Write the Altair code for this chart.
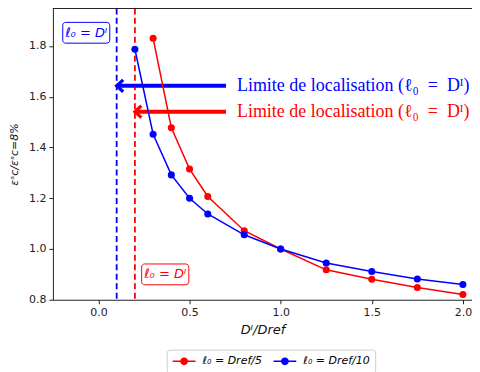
import altair as alt
import pandas as pd

# ---- data ----
red_x = [0.3, 0.4, 0.5, 0.6, 0.8, 1.0, 1.25, 1.5, 1.75, 2.0]
red_y = [1.83, 1.478, 1.315, 1.207, 1.072, 1.0, 0.918, 0.881, 0.848, 0.821]
blue_x = [0.2, 0.3, 0.4, 0.5, 0.6, 0.8, 1.0, 1.25, 1.5, 1.75, 2.0]
blue_y = [1.787, 1.452, 1.292, 1.2, 1.138, 1.056, 1.0, 0.945, 0.911, 0.882, 0.86]
series_names = ["ℓ₀ = Dref/5", "ℓ₀ = Dref/10"]
series_colors = ["#ff0000", "#0000ff"]

limit_x = [0.1, 0.2]            # localisation limits (blue, red)
arrow_y = [1.643, 1.541]        # arrow heights (blue, red)
arrow_start = [0.7, 0.7]
arrow_text_x = [0.76, 0.76]
arrow_text = ["Limite de localisation (ℓ₀\u2002=\u2002Dᴵ)", "Limite de localisation (ℓ₀\u2002=\u2002Dᴵ)"]
limit_colors = ["#0000ff", "#ff0000"]

box_text = ["ℓ₀ = Dᴵ", "ℓ₀ = Dᴵ"]
box_x = [-0.196, 0.237]
box_x2 = [0.062, 0.496]
box_y = [1.811, 0.859]
box_y2 = [1.893, 0.941]

x_ticks = [0.0, 0.5, 1.0, 1.5, 2.0]
y_ticks = [0.8, 1.0, 1.2, 1.4, 1.6, 1.8]
x_domain = [-0.25, 2.05]
y_domain = [0.8, 1.948]

W, H = 420, 292

df = pd.DataFrame({
    "x": red_x + blue_x,
    "y": red_y + blue_y,
    "series": [series_names[0]] * len(red_x) + [series_names[1]] * len(blue_x),
})
lim = pd.DataFrame({
    "lx": limit_x, "ay": arrow_y, "ax0": arrow_start, "tx": arrow_text_x,
    "txt": arrow_text, "c": limit_colors,
})
boxes = pd.DataFrame({
    "x": box_x, "x2": box_x2, "y": box_y, "y2": box_y2, "txt": box_text,
    "c": limit_colors,
    "cx": [(a + b) / 2 for a, b in zip(box_x, box_x2)],
    "cy": [(a + b) / 2 for a, b in zip(box_y, box_y2)],
})

xs = alt.Scale(domain=x_domain, nice=False, zero=False)
ys = alt.Scale(domain=y_domain, nice=False, zero=False)

main = alt.Chart(df).mark_line(
    strokeWidth=1.5,
    point=alt.OverlayMarkDef(filled=True, size=50, opacity=1),
).encode(
    x=alt.X("x:Q", scale=xs, axis=alt.Axis(
        values=x_ticks, format=".1f", title="Dᴵ/Dref", grid=False,
        tickSize=4, labelPadding=3, titleFontStyle="italic",
        titleFontWeight="normal", titleFontSize=13, titlePadding=6,
    )),
    y=alt.Y("y:Q", scale=ys, axis=alt.Axis(
        values=y_ticks, format=".1f", title="εˢc/εˢc=8%", grid=False,
        tickSize=4, labelPadding=3, titleFontStyle="italic",
        titleFontWeight="normal", titleFontSize=11, titlePadding=9,
    )),
    color=alt.Color("series:N", scale=alt.Scale(domain=series_names, range=series_colors),
                    sort=series_names,
                    legend=alt.Legend(
                        title=None, orient="none", legendX=114, legendY=342,
                        direction="horizontal", strokeColor="#cccccc", fillColor="white",
                        padding=5, cornerRadius=3, columnPadding=8,
                        labelFont="DejaVu Sans", labelFontStyle="italic", labelFontSize=11,
                        symbolType="M-2,0H2M0,-0.55A0.55,0.55,0,1,1,0,0.55A0.55,0.55,0,1,1,0,-0.55",
                        symbolSize=130, symbolStrokeWidth=1.5, labelOffset=12,
                        symbolOffset=6,
                    )),
)

vlines = alt.Chart(lim).mark_rule(strokeWidth=1.8, strokeDash=[6, 3.5]).encode(
    x=alt.X("lx:Q", scale=xs),
    color=alt.Color("c:N", scale=None),
)

shafts = alt.Chart(lim).mark_rule(strokeWidth=4).encode(
    x=alt.X("lx:Q", scale=xs), x2="ax0:Q",
    y=alt.Y("ay:Q", scale=ys),
    color=alt.Color("c:N", scale=None),
)
heads = alt.Chart(lim).mark_point(
    shape="M1.1,-1L0,0L1.1,1", filled=False, strokeWidth=3.2, size=140, opacity=1,
).encode(
    x=alt.X("lx:Q", scale=xs), y=alt.Y("ay:Q", scale=ys),
    color=alt.Color("c:N", scale=None),
)
texts = alt.Chart(lim).mark_text(
    align="left", baseline="middle", font="Liberation Serif", fontSize=18,
).encode(
    x=alt.X("tx:Q", scale=xs), y=alt.Y("ay:Q", scale=ys), text="txt:N",
    color=alt.Color("c:N", scale=None),
)

rects = alt.Chart(boxes).mark_rect(fill="white", strokeWidth=1, cornerRadius=3).encode(
    x=alt.X("x:Q", scale=xs), x2="x2:Q",
    y=alt.Y("y:Q", scale=ys), y2="y2:Q",
    stroke=alt.Color("c:N", scale=None),
)
btexts = alt.Chart(boxes).mark_text(
    align="center", baseline="middle", font="DejaVu Sans", fontStyle="italic", fontSize=13,
).encode(
    x=alt.X("cx:Q", scale=xs), y=alt.Y("cy:Q", scale=ys), text="txt:N",
    color=alt.Color("c:N", scale=None),
)

top_spine = alt.Chart(lim).mark_rule(color="#222222", strokeWidth=1).encode(
    x=alt.value(0), x2=alt.value(W), y=alt.value(0),
)

chart = alt.layer(
    vlines, shafts, heads, texts, main, rects, btexts, top_spine
).properties(
    width=W, height=H,
    autosize=alt.AutoSizeParams(type="none"),
    padding={"left": 45, "top": 0, "right": 0, "bottom": 72},
).configure_view(stroke=None).configure_axis(
    domainColor="#222222", tickColor="#222222", labelColor="#222222",
    titleColor="#111111", labelFont="DejaVu Sans", titleFont="DejaVu Sans",
    labelFontSize=11, domainWidth=1,
)

chart.save("out.html", embed_options={"renderer": "svg", "actions": False})
